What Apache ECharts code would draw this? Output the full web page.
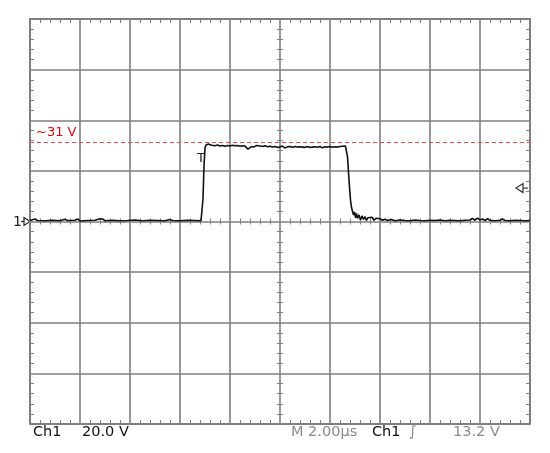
<!DOCTYPE html>
<html>
<head>
<meta charset="utf-8">
<script src="https://cdn.jsdelivr.net/npm/echarts@6/dist/echarts.min.js"></script>
<style>
  html, body { margin: 0; background: #fff; }
  #chart { width: 550px; height: 453px; }
</style>
</head>
<body>
<div id="chart"></div>
<script>
// captured trace: time in microseconds, amplitude in volts (20 V/div, 2 us/div)
const timeUs = [
  0.0, 0.2, 0.3, 0.6, 0.9, 1.2, 1.4, 1.5, 1.8, 1.9, 2.0, 2.3, 2.6, 2.8, 2.9, 3.0,
  3.3, 3.6, 3.9, 4.2, 4.5, 4.8, 5.1, 5.4, 5.6, 5.7, 6.0, 6.3, 6.6, 6.84, 6.88,
  6.92, 6.96, 7.0, 7.04, 7.08, 7.14, 7.2, 7.26, 7.32, 7.4, 7.5, 7.6, 7.7, 7.8,
  7.9, 8.0, 8.1, 8.2, 8.3, 8.4, 8.5, 8.6, 8.68, 8.72, 8.8, 8.86, 8.95, 9.05,
  9.1, 9.2, 9.3, 9.4, 9.5, 9.6, 9.7, 9.8, 9.9, 10.0, 10.1, 10.2, 10.3, 10.4,
  10.5, 10.6, 10.7, 10.8, 10.9, 11.0, 11.1, 11.2, 11.3, 11.4, 11.5, 11.6, 11.7,
  11.8, 11.9, 12.0, 12.1, 12.2, 12.3, 12.4, 12.5, 12.56, 12.62, 12.66, 12.7,
  12.74, 12.78, 12.82, 12.86, 12.9, 12.94, 12.98, 13.02, 13.06, 13.1, 13.16,
  13.22, 13.28, 13.34, 13.4, 13.46, 13.52, 13.6, 13.68, 13.76, 13.84, 13.92,
  14.0, 14.1, 14.2, 14.3, 14.45, 14.6, 14.8, 15.0, 15.2, 15.4, 15.6, 15.8, 16.0,
  16.2, 16.4, 16.6, 16.8, 17.0, 17.2, 17.4, 17.6, 17.7, 17.8, 17.9, 18.0, 18.1,
  18.2, 18.3, 18.4, 18.6, 18.8, 18.9, 19.0, 19.2, 19.4, 19.6, 19.8, 20.0
];
const volts = [
  0.4, 1.0, 0.4, 0.3, 0.5, 0.3, 0.9, 0.4, 0.5, 1.0, 0.2, 0.4, 0.5, 1.1, 1.0, 0.3,
  0.5, 0.3, 0.4, 0.6, 0.3, 0.5, 0.4, 0.3, 0.8, 0.4, 0.3, 0.5, 0.4, 0.3, 0.6,
  9.0, 22.0, 29.0, 30.2, 29.7, 30.6, 30.9, 30.1, 30.3, 29.9, 30.2, 29.8, 30.0, 29.7,
  30.0, 29.8, 30.1, 29.9, 30.0, 29.7, 29.9, 29.8, 29.8, 28.6, 28.8, 29.6, 29.4, 30.0,
  29.4, 29.8, 29.6, 29.9, 29.5, 29.7, 29.4, 29.6, 29.3, 29.4, 29.8, 29.0, 29.5, 29.6,
  29.3, 29.6, 29.4, 29.5, 29.4, 29.3, 29.6, 29.2, 29.4, 29.5, 29.3, 29.6, 29.1,
  29.5, 29.4, 29.6, 29.3, 29.5, 29.4, 29.6, 29.7, 30.4, 29.8, 29.2, 25.5,
  19.5, 13.5, 8.5, 5.5, 4.8, 2.6, 3.8, 1.5, 3.2, 1.2, 2.6,
  0.6, 2.2, 0.8, 1.9, 0.4, 1.5, 0.9, 1.7, 0.5, 1.3, 0.7,
  1.1, 0.5, 0.9, 0.4, 0.8, 0.3, 0.6, 0.4, 0.3, 0.6, 0.4, 0.3, 0.5,
  0.4, 0.6, 0.3, 0.5, 0.4, 0.3, 0.5, 0.6, 1.2, 0.5, 1.3, 0.6, 1.0,
  0.4, 1.1, 0.5, 0.3, 0.5, 1.0, 0.4, 0.3, 0.5, 0.4, 0.3, 0.4
];

const thresholdV = 31.4;
const thresholdLabel = '~31 V';
const triggerLevelV = 13.2;
const triggerTimeUs = 6.84;
const statusLeft = ['Ch1', '20.0 V'];
const statusRight = ['M 2.00\u00b5s', 'Ch1', '\u222b', '13.2 V'];

const gridColor = '#7f7f7f';
const chart = echarts.init(document.getElementById('chart'));

function xAx(position, opts) {
  return Object.assign({
    type: 'value', position: position, min: 0, max: 20, interval: 2,
    axisLine: { onZero: false, lineStyle: { color: gridColor, width: 2 } },
    axisTick: { show: false, inside: true },
    axisLabel: { show: false },
    splitLine: { show: false },
    minorTick: { show: true, splitNumber: 5, length: 4, lineStyle: { color: gridColor, width: 1 } }
  }, opts);
}
function yAx(position, opts) {
  return Object.assign({
    type: 'value', position: position, min: -80, max: 80, interval: 20,
    axisLine: { onZero: false, lineStyle: { color: gridColor, width: 2 } },
    axisTick: { show: false, inside: true },
    axisLabel: { show: false },
    splitLine: { show: false },
    minorTick: { show: true, splitNumber: 5, length: 4, lineStyle: { color: gridColor, width: 1 } }
  }, opts);
}
const centerTick = { show: true, splitNumber: 5, length: 3, lineStyle: { color: gridColor, width: 1 } };

chart.setOption({
  animation: false,
  backgroundColor: '#fff',
  grid: { left: 30, top: 19, width: 500, height: 405 },
  xAxis: [
    xAx('bottom', { splitLine: { show: true, lineStyle: { color: gridColor, width: 1.6 } } }),
    xAx('top'),
    xAx('bottom', { offset: -202.5, axisLine: { show: false, onZero: false }, axisTick: { show: false, inside: true }, minorTick: centerTick }),
    xAx('bottom', { offset: -202.5, axisLine: { show: false, onZero: false }, axisTick: { show: false, inside: false }, minorTick: centerTick })
  ],
  yAxis: [
    yAx('left', { splitLine: { show: true, lineStyle: { color: gridColor, width: 1.6 } } }),
    yAx('right'),
    yAx('left', { offset: -250, axisLine: { show: false, onZero: false }, axisTick: { show: false, inside: true }, minorTick: centerTick }),
    yAx('left', { offset: -250, axisLine: { show: false, onZero: false }, axisTick: { show: false, inside: false }, minorTick: centerTick })
  ],
  series: [{
    type: 'line',
    xAxisIndex: 0,
    yAxisIndex: 0,
    data: timeUs.map((t, i) => [t, volts[i]]),
    showSymbol: false,
    lineStyle: { color: '#111', width: 1.6 },
    markLine: {
      silent: true,
      symbol: 'none',
      lineStyle: { color: '#f04848', type: [4, 3], width: 1 },
      label: {
        position: 'insideStartTop', formatter: thresholdLabel, color: '#e8000b',
        fontSize: 13, fontFamily: 'DejaVu Sans', distance: [6, 3]
      },
      data: [{ yAxis: thresholdV }]
    }
  }]
});

const toPx = v => chart.convertToPixel({ xAxisIndex: 0, yAxisIndex: 0 }, v);
const zero = toPx([0, 0]);
const trig = toPx([20, triggerLevelV]);
const tMark = toPx([triggerTimeUs, 24.7]);
const font = '14.5px "DejaVu Sans"';

chart.setOption({
  graphic: [
    { type: 'text', x: zero[0] - 17, y: zero[1] + 1, style: { text: '1', font: '14px "DejaVu Sans"', fill: '#222', verticalAlign: 'middle' } },
    { type: 'line', shape: { x1: zero[0] - 9, y1: zero[1], x2: zero[0] - 5, y2: zero[1] }, style: { stroke: '#222', lineWidth: 1.2 } },
    { type: 'polygon', shape: { points: [[zero[0] - 6, zero[1] - 4], [zero[0], zero[1]], [zero[0] - 6, zero[1] + 4]] }, style: { stroke: '#222', fill: '#fff', lineWidth: 1.2 } },
    { type: 'polygon', shape: { points: [[trig[0] - 14, trig[1]], [trig[0] - 7, trig[1] - 4.5], [trig[0] - 7, trig[1] + 4.5]] }, style: { stroke: '#333', fill: '#fff', lineWidth: 1.2 } },
    { type: 'line', shape: { x1: trig[0] - 7, y1: trig[1], x2: trig[0] - 2, y2: trig[1] }, style: { stroke: '#333', lineWidth: 1.2 } },
    { type: 'text', x: tMark[0], y: tMark[1], style: { text: 'T', font: '13px "DejaVu Sans"', fill: '#222', align: 'center', verticalAlign: 'middle' } },
    { type: 'text', x: 33, y: 432, style: { text: statusLeft[0], font: font, fill: '#111', verticalAlign: 'middle' } },
    { type: 'text', x: 82, y: 432, style: { text: statusLeft[1], font: font, fill: '#111', verticalAlign: 'middle' } },
    { type: 'text', x: 291, y: 432, style: { text: statusRight[0], font: font, fill: '#8a8a8a', verticalAlign: 'middle' } },
    { type: 'text', x: 372, y: 432, style: { text: statusRight[1], font: font, fill: '#111', verticalAlign: 'middle' } },
    { type: 'text', x: 409, y: 432, style: { text: statusRight[2], font: font, fill: '#8a8a8a', verticalAlign: 'middle' } },
    { type: 'text', x: 453, y: 432, style: { text: statusRight[3], font: font, fill: '#8a8a8a', verticalAlign: 'middle' } }
  ]
});
</script>
</body>
</html>
